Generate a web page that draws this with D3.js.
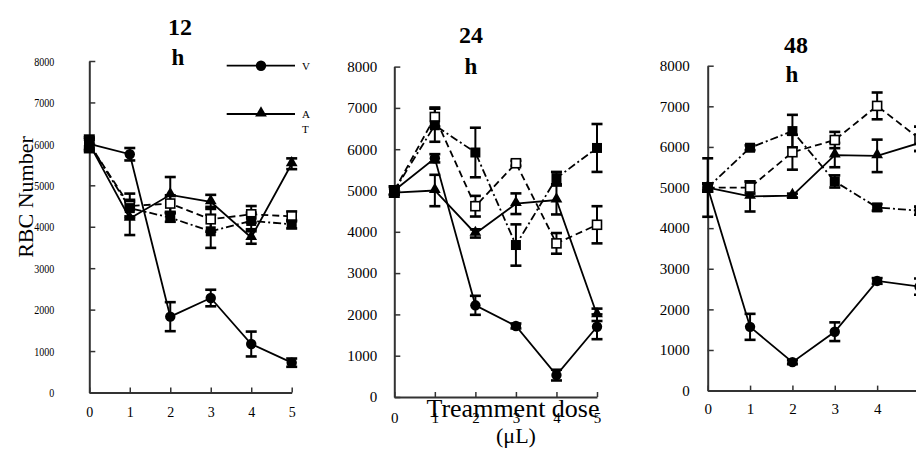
<!DOCTYPE html>
<html>
<head>
<meta charset="utf-8">
<script src="https://cdn.jsdelivr.net/npm/d3@7"></script>
<style>
body { margin: 0; background: #fff; }
svg { display: block; }
svg, svg text { font-family: "Liberation Serif", "Times New Roman", serif; fill: #000; }
</style>
</head>
<body>
<svg width="916" height="452"></svg>
<script>
var doses = [0, 1, 2, 3, 4, 5];
var yTicks = [0, 1000, 2000, 3000, 4000, 5000, 6000, 7000, 8000];
var legendNames = ["V", "A\nT"];

// 12 h
var v12 = [6000, 5750, 1830, 2280, 1170, 720];
var v12Err = [200, 150, 350, 200, 300, 100];
var at12 = [6000, 4200, 4770, 4600, 3740, 5520];
var at12Err = [150, 400, 430, 170, 150, 130];
var open12 = [6000, 4500, 4560, 4180, 4300, 4250];
var open12Err = [150, 300, 200, 300, 200, 120];
var filled12 = [6000, 4450, 4220, 3890, 4140, 4060];
var filled12Err = [100, 200, 100, 400, 200, 100];

// 24 h
var v24 = [5000, 5780, 2220, 1720, 530, 1700];
var v24Err = [100, 100, 230, 60, 130, 300];
var at24 = [4950, 5000, 3960, 4680, 4770, 1990];
var at24Err = [100, 380, 100, 250, 350, 150];
var open24 = [5000, 6780, 4620, 5660, 3720, 4170];
var open24Err = [100, 230, 250, 60, 250, 450];
var filled24 = [5000, 6580, 5920, 3680, 5300, 6030];
var filled24Err = [100, 400, 600, 500, 150, 580];

// 48 h
var v48 = [5000, 1570, 700, 1450, 2700, 2560];
var v48Err = [720, 320, 50, 230, 70, 200];
var at48 = [5000, 4780, 4800, 5800, 5780, 6100];
var at48Err = [100, 370, 50, 300, 400, 200];
var open48 = [5000, 5000, 5870, 6170, 7010, 6200];
var open48Err = [100, 150, 430, 200, 330, 300];
var filled48 = [5000, 5980, 6390, 5150, 4510, 4430];
var filled48Err = [100, 60, 400, 150, 80, 100];

var serif = '"Liberation Serif", "Times New Roman", serif';
var svg = d3.select("svg");

var panels = [
	{ title: "12", tx: 180, ty: 35, hx: 178, hy: 65, x0: 89.3, x1: 291.7, y0: 392.5, y1: 61,
	  yPad: 35, yFont: 13, xFont: 14, xPad: 15, squish: true,
	  series: [[v12, v12Err], [at12, at12Err], [open12, open12Err], [filled12, filled12Err]] },
	{ title: "24", tx: 471, ty: 43, hx: 471, hy: 74, x0: 394.3, x1: 597, y0: 397, y1: 66.6,
	  yPad: 17, yFont: 15, xFont: 15, xPad: 15,
	  series: [[v24, v24Err], [at24, at24Err], [open24, open24Err], [filled24, filled24Err]] },
	{ title: "48", tx: 796, ty: 53, hx: 792, hy: 82, x0: 707.7, x1: 919.5, y0: 390.6, y1: 65.7,
	  yPad: 18, yFont: 15, xFont: 15, xPad: 13,
	  series: [[v48, v48Err], [at48, at48Err], [open48, open48Err], [filled48, filled48Err]] }
];

// line style + marker per series: V, AT, open square, filled square
var styles = [
	{ dash: null, shape: "circle" },
	{ dash: null, shape: "triangle" },
	{ dash: "7,4", shape: "open" },
	{ dash: "8,3,2,3", shape: "square" }
];

function drawMarker(g, shape, cx, cy) {
	if (shape == "circle") {
		g.append("circle").attr("cx", cx).attr("cy", cy).attr("r", 5.2).attr("fill", "#000");
	} else if (shape == "triangle") {
		g.append("path").attr("d", d3.symbol(d3.symbolTriangle, 60)()).attr("transform", "translate(" + cx + "," + (cy - 1) + ")").attr("fill", "#000");
	} else if (shape == "open") {
		g.append("rect").attr("x", cx - 4.5).attr("y", cy - 4.5).attr("width", 9).attr("height", 9)
			.attr("fill", "#fff").attr("stroke", "#000").attr("stroke-width", 1.6);
	} else {
		g.append("rect").attr("x", cx - 5).attr("y", cy - 5).attr("width", 10).attr("height", 10).attr("fill", "#000");
	}
}

panels.forEach(function(p) {
	var x = d3.scaleLinear().domain([0, 5]).range([p.x0, p.x1]);
	var y = d3.scaleLinear().domain([0, 8000]).range([p.y0, p.y1]);
	var g = svg.append("g");

	var yAxis = g.append("g").attr("transform", "translate(" + p.x0 + ",0)")
		.call(d3.axisLeft(y).tickValues(yTicks).tickFormat(d3.format("d")).tickSizeInner(-6).tickSizeOuter(0).tickPadding(p.yPad));
	var xAxis = g.append("g").attr("transform", "translate(0," + p.y0 + ")")
		.call(d3.axisBottom(x).tickValues(doses).tickFormat(d3.format("d")).tickSizeInner(-5).tickSizeOuter(0).tickPadding(p.xPad));
	[yAxis, xAxis].forEach(function(a) {
		a.attr("font-family", null).attr("font-size", null);
		a.select(".domain").attr("stroke", "#333").attr("stroke-width", 2);
		a.selectAll(".tick line").attr("stroke", "#333").attr("stroke-width", 1.5);
		a.selectAll("text").style("font-family", serif);
	});
	yAxis.selectAll("text").style("font-size", p.yFont + "px");
	xAxis.selectAll("text").style("font-size", p.xFont + "px");
	if (p.squish) {
		yAxis.selectAll("text").attr("textLength", function(d) { return String(d).length * 5; })
			.attr("lengthAdjust", "spacingAndGlyphs");
	}

	var line = d3.line().x(function(d, i) { return x(doses[i]); }).y(function(d) { return y(d); });

	p.series.forEach(function(s, k) {
		g.append("path").datum(s[0]).attr("d", line).attr("fill", "none").attr("stroke", "#000")
			.attr("stroke-width", 1.8).attr("stroke-dasharray", styles[k].dash);
	});
	p.series.forEach(function(s, k) {
		var vals = s[0], errs = s[1];
		vals.forEach(function(v, i) {
			var cx = x(doses[i]), top = y(v + errs[i]), bot = y(v - errs[i]);
			g.append("line").attr("x1", cx).attr("x2", cx).attr("y1", top).attr("y2", bot).attr("stroke", "#000").attr("stroke-width", 2);
			[top, bot].forEach(function(yy) {
				g.append("line").attr("x1", cx - 5.5).attr("x2", cx + 5.5).attr("y1", yy).attr("y2", yy)
					.attr("stroke", "#000").attr("stroke-width", 2.6);
			});
		});
	});
	p.series.forEach(function(s, k) {
		s[0].forEach(function(v, i) { drawMarker(g, styles[k].shape, x(doses[i]), y(v)); });
	});

	g.append("text").attr("x", p.tx).attr("y", p.ty).attr("text-anchor", "middle")
		.style("font-size", "24px").style("font-weight", "bold").text(p.title);
	g.append("text").attr("x", p.hx).attr("y", p.hy).attr("text-anchor", "middle")
		.style("font-size", "23px").style("font-weight", "bold").text("h");
});

// legend (12 h panel)
var legend = svg.append("g");
legendNames.forEach(function(name, i) {
	var ly = 65.7 + i * 48.3;
	legend.append("line").attr("x1", 226.7).attr("x2", 295).attr("y1", ly).attr("y2", ly).attr("stroke", "#000").attr("stroke-width", 1.8);
	drawMarker(legend, styles[i].shape, 261, ly);
	name.split("\n").forEach(function(part, j) {
		legend.append("text").attr("x", 302).attr("y", ly + 4 + j * 15).style("font-size", "11px").text(part);
	});
});

svg.append("text").attr("transform", "translate(33,197) rotate(-90)").attr("text-anchor", "middle")
	.style("font-size", "22px").text("RBC Number");

svg.append("text").attr("x", 513).attr("y", 417).attr("text-anchor", "middle")
	.style("font-size", "26px").text("Treamment dose");
svg.append("text").attr("x", 516).attr("y", 443).attr("text-anchor", "middle")
	.style("font-size", "22px").text("(\u03bcL)");
</script>
</body>
</html>
